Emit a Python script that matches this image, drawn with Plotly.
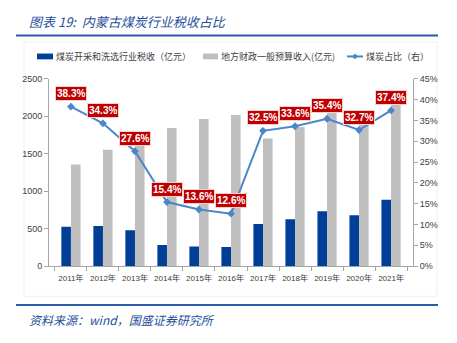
import plotly.graph_objects as go

years = ["2011年", "2012年", "2013年", "2014年", "2015年", "2016年",
         "2017年", "2018年", "2019年", "2020年", "2021年"]
coal_tax = [527, 535, 479, 281, 263, 255, 561, 626, 734, 678, 885]
local_rev = [1356, 1553, 1721, 1843, 1964, 2016, 1703, 1858, 2060, 2051, 2350]
coal_share = [0.383, 0.343, 0.276, 0.154, 0.136, 0.126, 0.325, 0.336, 0.354, 0.327, 0.374]
share_labels = ["38.3%", "34.3%", "27.6%", "15.4%", "13.6%", "12.6%",
                "32.5%", "33.6%", "35.4%", "32.7%", "37.4%"]

legend_names = ["煤炭开采和洗选行业税收（亿元）", "地方财政一般预算收入(亿元)", "煤炭占比（右）"]

BLUE = "#003E98"
GREY = "#BFBFBF"
LINE = "#4A86C8"
RED = "#C00000"
DARKBLUE = "#1F4E9A"

W, H = 457, 343
def px(x):
    return x / W
def py(y):
    return 1 - y / H

fig = go.Figure()
fig.add_trace(go.Bar(x=years, y=coal_tax, name=legend_names[0], marker_color=BLUE,
                     marker_line_width=0, showlegend=False))
fig.add_trace(go.Bar(x=years, y=local_rev, name=legend_names[1], marker_color=GREY,
                     marker_line_width=0, showlegend=False))
fig.add_trace(go.Scatter(x=years, y=coal_share, name=legend_names[2], yaxis="y2",
                         mode="lines+markers", line=dict(color=LINE, width=2),
                         marker=dict(symbol="diamond", size=6, color=LINE),
                         showlegend=False))

tickfont = dict(family="Liberation Sans, Noto Sans CJK SC", size=9, color="#404040")

annotations = []
for x, v, t in zip(years, coal_share, share_labels):
    annotations.append(dict(x=x, y=v, xref="x", yref="y2", text="<b>" + t + "</b>",
                            showarrow=False, yshift=13,
                            font=dict(family="Liberation Sans", size=10, color="white"),
                            bgcolor=RED, bordercolor="#F4D0D0", borderwidth=1, borderpad=1))

# title and source
annotations.append(dict(x=px(27), y=py(17), xref="paper", yref="paper", xanchor="left",
                        yanchor="middle", showarrow=False,
                        text="<i>图表 19:  内蒙古煤炭行业税收占比</i>",
                        font=dict(family="Noto Sans CJK SC", size=13, color=DARKBLUE)))
annotations.append(dict(x=px(27), y=py(324), xref="paper", yref="paper", xanchor="left",
                        yanchor="middle", showarrow=False,
                        text="<i>资料来源：wind，国盛证券研究所</i>",
                        font=dict(family="Noto Sans CJK SC", size=12, color=DARKBLUE)))

# manual legend
legfont = dict(family="Noto Sans CJK SC", size=9, color="#404040")
leg_y = 53
annotations.append(dict(x=px(54), y=py(leg_y), xref="paper", yref="paper", xanchor="left",
                        yanchor="middle", showarrow=False, text=legend_names[0], font=legfont))
annotations.append(dict(x=px(219), y=py(leg_y), xref="paper", yref="paper", xanchor="left",
                        yanchor="middle", showarrow=False, text=legend_names[1], font=legfont))
annotations.append(dict(x=px(364), y=py(leg_y), xref="paper", yref="paper", xanchor="left",
                        yanchor="middle", showarrow=False, text=legend_names[2], font=legfont))

shapes = [
    dict(type="line", xref="paper", yref="paper", x0=px(16), x1=px(438), y0=py(31.5), y1=py(31.5),
         line=dict(color="#2A5CAA", width=2)),
    dict(type="line", xref="paper", yref="paper", x0=px(16), x1=px(438), y0=py(309), y1=py(309),
         line=dict(color="#2A5CAA", width=2)),
    dict(type="rect", xref="paper", yref="paper", x0=px(24), x1=px(437), y0=py(300), y1=py(38),
         line=dict(color="#F0F0F0", width=1), layer="below"),
    dict(type="rect", xref="paper", yref="paper", x0=px(37), x1=px(53), y0=py(leg_y + 3), y1=py(leg_y - 3),
         fillcolor=BLUE, line_width=0),
    dict(type="rect", xref="paper", yref="paper", x0=px(203), x1=px(218), y0=py(leg_y + 3), y1=py(leg_y - 3),
         fillcolor=GREY, line_width=0),
    dict(type="line", xref="paper", yref="paper", x0=px(347), x1=px(363), y0=py(leg_y), y1=py(leg_y),
         line=dict(color=LINE, width=2)),
    dict(type="path", xref="paper", yref="paper",
         path=f"M {px(355)},{py(leg_y-3)} L {px(358)},{py(leg_y)} L {px(355)},{py(leg_y+3)} L {px(352)},{py(leg_y)} Z",
         fillcolor=LINE, line_width=0),
]

fig.update_layout(
    width=W, height=H, autosize=False,
    margin=dict(l=0, r=0, t=0, b=0),
    paper_bgcolor="white", plot_bgcolor="white",
    barmode="group", bargap=0.4, bargroupgap=0,
    xaxis=dict(domain=[px(49), px(413)], type="category", showline=True, linecolor="#A6A6A6",
               linewidth=1, ticks="outside", tickson="boundaries", ticklen=4, tickcolor="#A6A6A6",
               tickangle=0, ticklabelstandoff=4,
               tickfont=dict(family="Liberation Sans, Noto Sans CJK SC", size=8, color="#404040"),
               showgrid=False, fixedrange=True),
    yaxis=dict(domain=[py(269), py(76)], range=[0, 2500], dtick=500, showline=True,
               linecolor="#A6A6A6", linewidth=1, ticks="outside", ticklen=4, tickcolor="#A6A6A6",
               showgrid=False, zeroline=False, tickfont=tickfont),
    yaxis2=dict(overlaying="y", side="right", range=[0, 0.45], dtick=0.05, tickformat=".0%",
                showline=True, linecolor="#A6A6A6", linewidth=1, ticks="outside", ticklen=4,
                tickcolor="#A6A6A6", showgrid=False, zeroline=False, tickfont=tickfont),
    annotations=annotations,
    shapes=shapes,
    showlegend=False,
)

fig.write_html("out.html")
